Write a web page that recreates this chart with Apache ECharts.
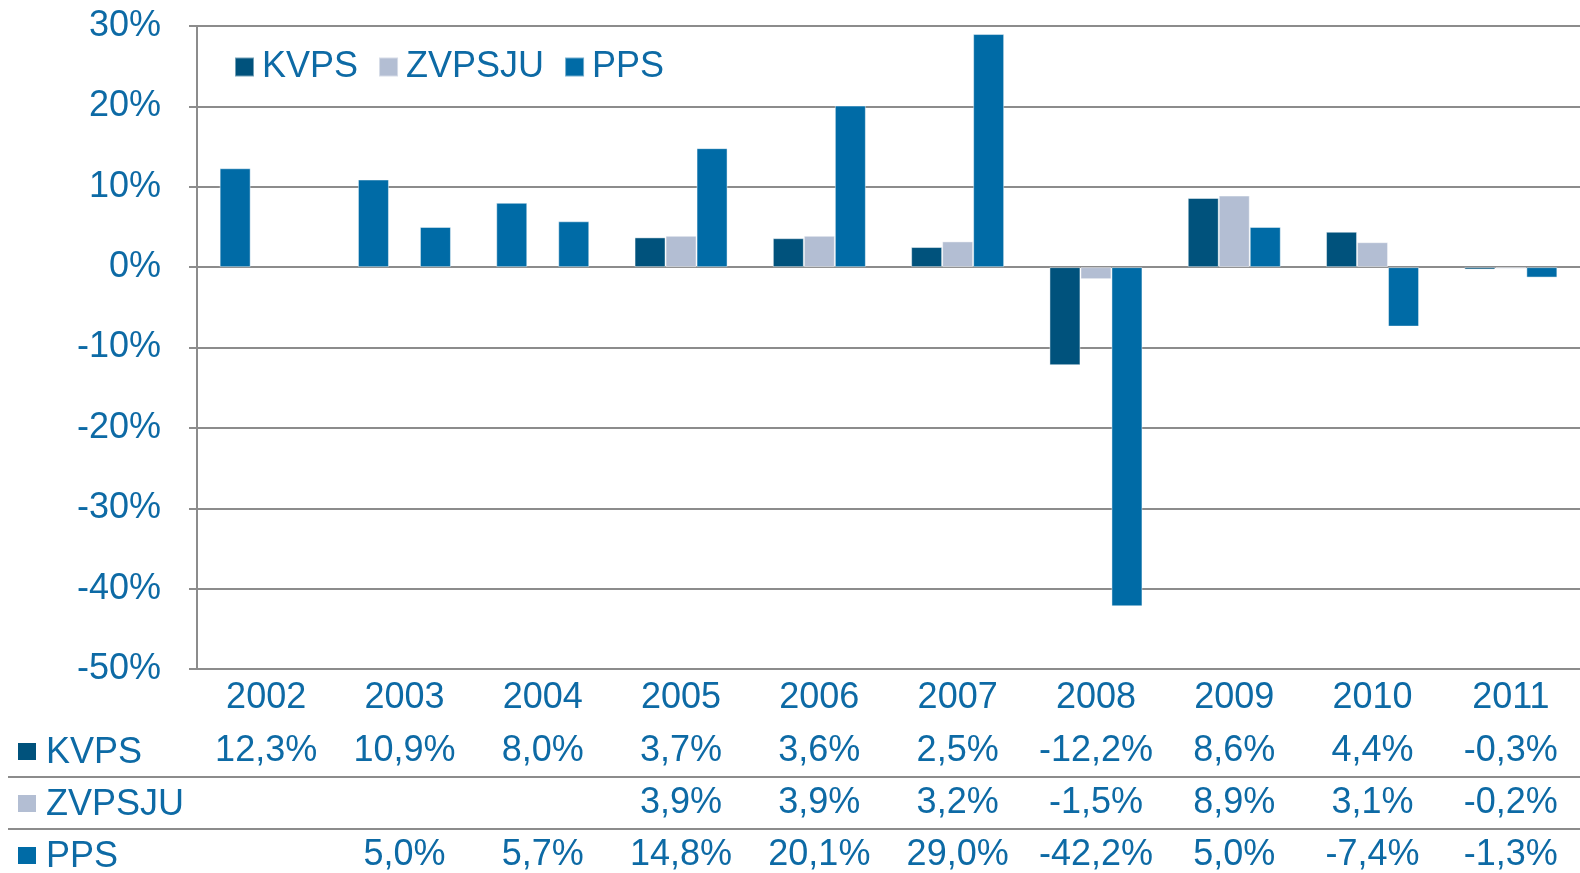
<!DOCTYPE html>
<html>
<head>
<meta charset="utf-8">
<script src="https://cdn.jsdelivr.net/npm/echarts@6/dist/echarts.min.js"></script>
<style>
  html, body { margin: 0; padding: 0; background: #fff; }
  #chart { width: 1580px; height: 873px; }
</style>
</head>
<body>
<div id="chart"></div>
<script>
// ---- data ----
const years = ['2002', '2003', '2004', '2005', '2006', '2007', '2008', '2009', '2010', '2011'];
const seriesNames = ['KVPS', 'ZVPSJU', 'PPS'];
const kvps   = [12.3, 10.9, 8.0, 3.7, 3.6, 2.5, -12.2, 8.6, 4.4, -0.3];
const zvpsju = [null, null, null, 3.9, 3.9, 3.2, -1.5, 8.9, 3.1, -0.2];
const pps    = [null, 5.0, 5.7, 14.8, 20.1, 29.0, -42.2, 5.0, -7.4, -1.3];
// KVPS bars that the original draws in the PPS colour
const kvpsAltColorIdx = [0, 1, 2];

// ---- styles ----
const C_KVPS = '#00527c';
const C_ZV = '#b3bed3';
const C_PPS = '#006ba6';
const TXT = '#0d6aa5';
const GRID = '#8c8c8c';
const FONT = '"Liberation Sans", Arial, sans-serif';
const FS = 36;

function fmt(v) {
  if (v === null || v === undefined) return '';
  return v.toFixed(1).replace('.', ',') + '%';
}

const chart = echarts.init(document.getElementById('chart'), null, { renderer: 'canvas' });

const tableRows = [
  { data: kvps, offset: 55 },
  { data: zvpsju, offset: 107 },
  { data: pps, offset: 159 }
];

const xAxes = [{
  type: 'category',
  data: years,
  gridIndex: 0,
  position: 'bottom',
  axisLine: { show: true, onZero: false, lineStyle: { color: GRID, width: 2 } },
  axisTick: { show: false },
  axisLabel: { color: TXT, fontSize: FS, fontFamily: FONT, margin: 11, interval: 0 },
  splitLine: { show: false }
}];
tableRows.forEach(r => {
  xAxes.push({
    type: 'category',
    data: years,
    gridIndex: 0,
    position: 'bottom',
    offset: r.offset,
    axisLine: { show: false },
    axisTick: { show: false },
    axisLabel: {
      color: TXT, fontSize: FS, fontFamily: FONT, margin: 9, interval: 0,
      formatter: (val, idx) => fmt(r.data[idx])
    },
    splitLine: { show: false }
  });
});

const rowY = [751, 803, 855];
const rowColors = [C_KVPS, C_ZV, C_PPS];
const graphics = [];
seriesNames.forEach((n, i) => {
  graphics.push({
    type: 'rect', left: 18, top: rowY[i] - 8,
    shape: { width: 18, height: 17 }, style: { fill: rowColors[i] }
  });
  graphics.push({
    type: 'text', left: 46, top: rowY[i] - 16,
    style: { text: n, fill: TXT, font: FS + 'px ' + FONT }
  });
});
[777, 829].forEach(y => {
  graphics.push({
    type: 'line', shape: { x1: 8, y1: y, x2: 1580, y2: y },
    style: { stroke: GRID, lineWidth: 2 }
  });
});

const barBorder = { borderColor: 'rgba(255,255,255,0.45)', borderWidth: 1 };

chart.setOption({
  animation: false,
  backgroundColor: '#ffffff',
  textStyle: { fontFamily: FONT },
  grid: { left: 197, right: 0, top: 26, bottom: 202, containLabel: false },
  legend: {
    data: seriesNames,
    left: 229, top: 44,
    icon: 'rect',
    itemWidth: 19, itemHeight: 19,
    itemGap: 20,
    textStyle: { color: TXT, fontSize: FS, fontFamily: FONT, padding: [0, 0, 0, 3] }
  },
  xAxis: xAxes,
  yAxis: {
    type: 'value',
    min: -50, max: 30, interval: 10,
    axisLine: { show: true, lineStyle: { color: GRID, width: 2 } },
    axisTick: { show: true, length: 8, lineStyle: { color: GRID, width: 2 } },
    axisLabel: { color: TXT, fontSize: FS, fontFamily: FONT, margin: 36, formatter: v => v + '%' },
    splitLine: { show: true, lineStyle: { color: GRID, width: 2 } }
  },
  series: [
    {
      name: 'KVPS', type: 'bar', barWidth: 31, barGap: '0%',
      itemStyle: Object.assign({ color: C_KVPS }, barBorder),
      data: kvps.map((v, i) => kvpsAltColorIdx.includes(i) ? { value: v, itemStyle: { color: C_PPS } } : v)
    },
    {
      name: 'ZVPSJU', type: 'bar', barWidth: 31, barGap: '0%',
      itemStyle: Object.assign({ color: C_ZV }, barBorder),
      data: zvpsju
    },
    {
      name: 'PPS', type: 'bar', barWidth: 31, barGap: '0%',
      itemStyle: Object.assign({ color: C_PPS }, barBorder),
      data: pps
    }
  ],
  graphic: graphics
});
</script>
</body>
</html>
